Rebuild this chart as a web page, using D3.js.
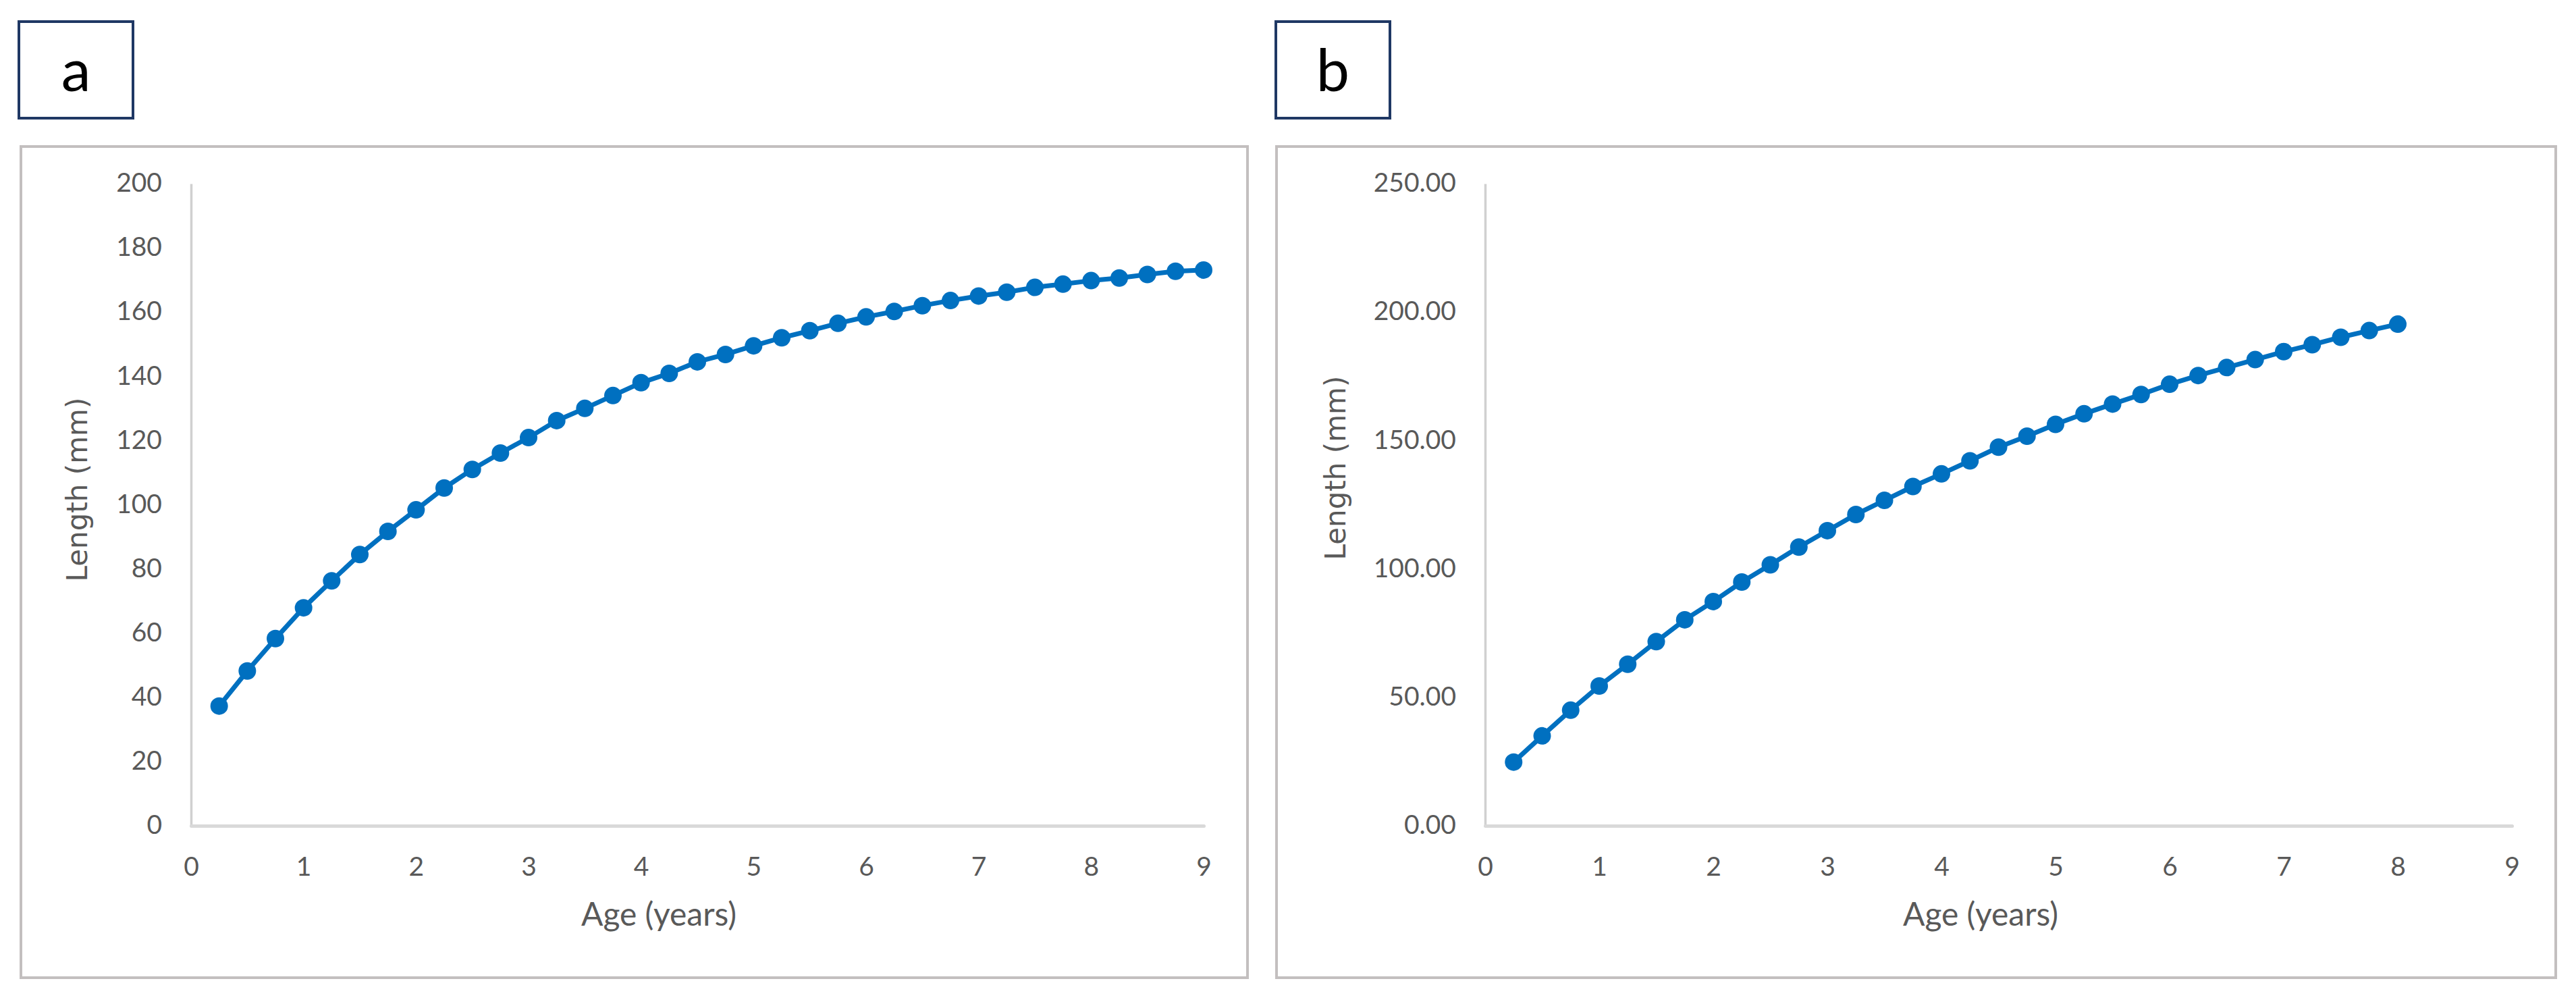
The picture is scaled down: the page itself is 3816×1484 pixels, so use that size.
<!DOCTYPE html>
<html>
<head>
<meta charset="utf-8">
<script src="https://cdn.jsdelivr.net/npm/d3@7"></script>
<style>
  html, body { margin: 0; padding: 0; background: #ffffff; }
  svg { display: block; }
</style>
</head>
<body>
<svg id="chart" width="3816" height="1484"></svg>
<script>
// ---------------- DATA ----------------
const panelLabels = ["a", "b"];
const xTitle = "Age (years)";
const yTitle = "Length (mm)";
const xTickValues = [0, 1, 2, 3, 4, 5, 6, 7, 8, 9];

const agesA = [0.25,0.5,0.75,1,1.25,1.5,1.75,2,2.25,2.5,2.75,3,3.25,3.5,3.75,4,4.25,4.5,4.75,5,
               5.25,5.5,5.75,6,6.25,6.5,6.75,7,7.25,7.5,7.75,8,8.25,8.5,8.75,9];
const lengthsA = [37.3,48.2,58.3,67.9,76.3,84.5,91.7,98.4,105.2,111.0,116.1,120.9,126.2,130.0,134.0,138.0,
                  140.9,144.5,146.8,149.5,152.0,154.2,156.5,158.5,160.2,162.0,163.6,165.0,166.2,167.7,
                  168.7,169.8,170.6,171.7,172.7,173.1];
const yTicksA = [0,20,40,60,80,100,120,140,160,180,200];

const agesB = [0.25,0.5,0.75,1,1.25,1.5,1.75,2,2.25,2.5,2.75,3,3.25,3.5,3.75,4,4.25,4.5,4.75,5,
               5.25,5.5,5.75,6,6.25,6.5,6.75,7,7.25,7.5,7.75,8];
const lengthsB = [24.8,35.0,45.0,54.4,62.9,71.7,80.2,87.3,94.9,101.6,108.5,114.9,121.2,126.7,132.1,137.0,
                  142.1,147.4,151.7,156.3,160.4,164.2,167.9,171.9,175.3,178.4,181.5,184.6,187.3,190.2,
                  192.8,195.3];
const yTicksB = [0,50,100,150,200,250];

// ---------------- LAYOUT ----------------
const svg = d3.select("#chart");
const BLUE = "#0070C0";
const TICK_COLOR = "#595959";
const tickFont = "Lato, 'Open Sans', sans-serif";

const panels = [
  { label: panelLabels[0], ages: agesA, lengths: lengthsA, yTicks: yTicksA, yMax: 200, yFmt: d3.format("d"),
    labelBox: [28, 32, 169, 143], frame: [31, 217, 1817, 1231],
    x0: 283, x1: 1783, y0: 1223, y1: 272,
    xTitleX: 976, yTitleX: 129, yTitleY: 725 },
  { label: panelLabels[1], ages: agesB, lengths: lengthsB, yTicks: yTicksB, yMax: 250, yFmt: d3.format(".2f"),
    labelBox: [1890, 32, 169, 143], frame: [1891, 217, 1895, 1231],
    x0: 2200, x1: 3721, y0: 1223, y1: 272,
    xTitleX: 2934, yTitleX: 1993, yTitleY: 693 }
];

panels.forEach(p => {
  const g = svg.append("g");

  // panel letter box
  g.append("rect")
    .attr("x", p.labelBox[0]).attr("y", p.labelBox[1])
    .attr("width", p.labelBox[2]).attr("height", p.labelBox[3])
    .attr("fill", "#ffffff").attr("stroke", "#1F3864").attr("stroke-width", 4);
  g.append("text")
    .attr("x", p.labelBox[0] + p.labelBox[2] / 2)
    .attr("y", 135)
    .attr("text-anchor", "middle")
    .attr("font-family", tickFont)
    .attr("font-size", 88)
    .attr("fill", "#000000")
    .text(p.label);

  // chart frame
  g.append("rect")
    .attr("x", p.frame[0]).attr("y", p.frame[1])
    .attr("width", p.frame[2]).attr("height", p.frame[3])
    .attr("fill", "#ffffff").attr("stroke", "#c3bfbf").attr("stroke-width", 4);

  const x = d3.scaleLinear().domain([0, 9]).range([p.x0, p.x1]);
  const y = d3.scaleLinear().domain([0, p.yMax]).range([p.y0, p.y1]);

  // y axis
  const yAxis = d3.axisLeft(y).tickValues(p.yTicks).tickFormat(p.yFmt).tickSize(0).tickPadding(43);
  const yg = g.append("g").attr("transform", `translate(${p.x0},0)`).call(yAxis);
  yg.select(".domain").attr("stroke", "#d0d0d0").attr("stroke-width", 3.5);
  yg.selectAll("text")
    .attr("font-family", tickFont).attr("font-size", 39).attr("fill", TICK_COLOR)
    .attr("dy", "0.30em");

  // x axis
  const xAxis = d3.axisBottom(x).tickValues(xTickValues).tickFormat(d3.format("d")).tickSize(0).tickPadding(46);
  const xg = g.append("g").attr("transform", `translate(0,${p.y0})`).call(xAxis);
  xg.select(".domain").attr("stroke", "#d9d9d9").attr("stroke-width", 5).attr("stroke-linecap", "round");
  xg.selectAll("text")
    .attr("font-family", tickFont).attr("font-size", 39).attr("fill", TICK_COLOR)
    .attr("dy", "0");
  xg.selectAll(".tick text").attr("y", 74);

  // axis titles
  g.append("text")
    .attr("x", p.xTitleX).attr("y", 1371)
    .attr("text-anchor", "middle")
    .attr("font-family", tickFont).attr("font-size", 48).attr("fill", TICK_COLOR)
    .text(xTitle);
  g.append("text")
    .attr("transform", `translate(${p.yTitleX},${p.yTitleY}) rotate(-90)`)
    .attr("text-anchor", "middle")
    .attr("font-family", "'DejaVu Sans', sans-serif").attr("font-size", 42).attr("fill", TICK_COLOR)
    .text(yTitle);

  // series
  const pts = p.ages.map((a, i) => [a, p.lengths[i]]);
  const line = d3.line().x(d => x(d[0])).y(d => y(d[1]));
  g.append("path").datum(pts)
    .attr("d", line).attr("fill", "none")
    .attr("stroke", BLUE).attr("stroke-width", 7).attr("stroke-linejoin", "round");
  g.selectAll("circle.pt").data(pts).enter().append("circle")
    .attr("class", "pt")
    .attr("cx", d => x(d[0])).attr("cy", d => y(d[1]))
    .attr("r", 13).attr("fill", BLUE);
});
</script>
</body>
</html>
